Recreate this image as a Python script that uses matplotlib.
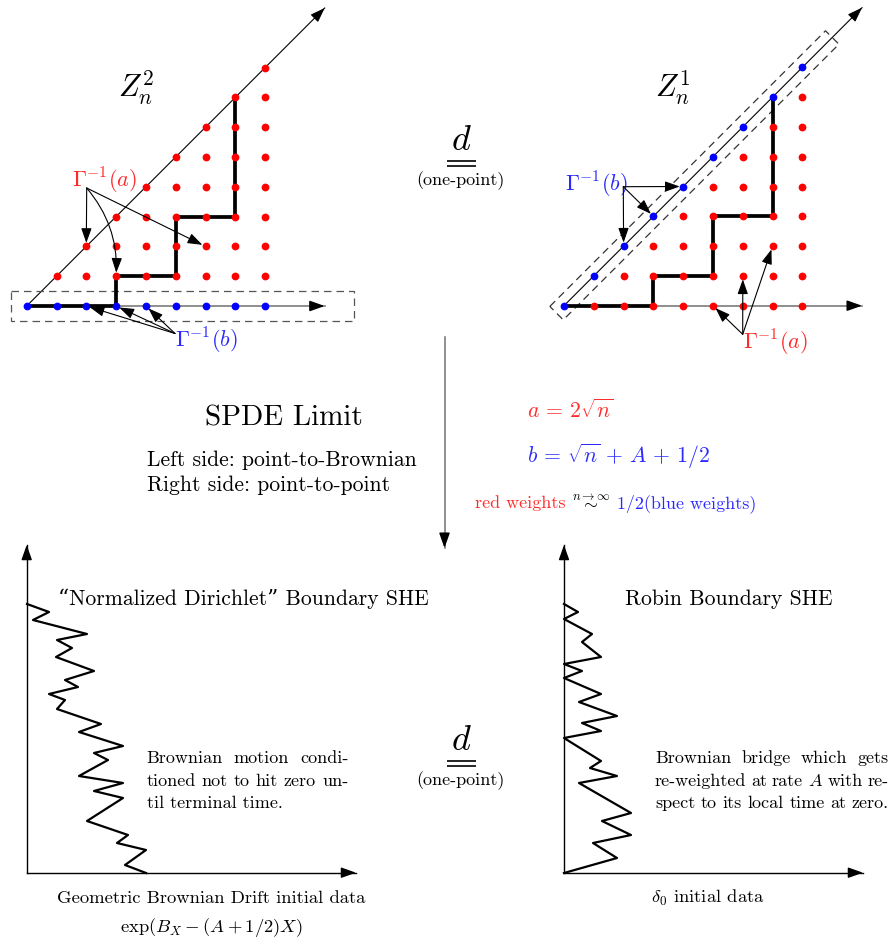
import matplotlib
matplotlib.use("Agg")
import matplotlib.pyplot as plt
import numpy as np
from matplotlib.patches import FancyArrowPatch, Polygon

plt.rcParams['font.family'] = ['cmr10', 'DejaVu Serif']
plt.rcParams['mathtext.fontset'] = 'cm'
plt.rcParams['axes.formatter.use_mathtext'] = True

# lattice data (lattice units)
N_MAX = 8
AXIS_LEN = 10
PATH = [(0, 0), (3, 0), (3, 1), (5, 1), (5, 3), (7, 3), (7, 7)]
LEFT_A_TARGETS = [(2, 2), (3, 1), (6, 2)]
LEFT_A_RAD = [0, -0.2, 0]
LEFT_B_TARGETS = [(2, 0), (3, 0), (4, 0)]
RIGHT_B_TARGETS = [(4, 4), (3, 3), (2, 2)]
RIGHT_A_TARGETS = [(5, 0), (6, 1), (7, 2)]

# zigzag paths of the two lower panels (pixel coords)
ZIG_LEFT_X = [27, 49, 33, 87, 57, 72, 56, 94, 65, 78, 49, 65, 57, 101, 79, 123,
              94, 108, 79, 123, 94, 123, 87, 128, 117, 146, 125, 146]
ZIG_LEFT_Y = [604, 612, 620, 634, 640, 648, 657, 671, 680, 687, 694, 700, 709, 724,
              732, 746, 753, 760, 776, 783, 791, 798, 821, 835, 843, 850, 865, 873]
ZIG_RIGHT_X = [564, 578, 564, 592, 582, 601, 564, 582, 564, 601, 579, 617, 582,
               601, 564, 601, 590, 617, 579, 631, 602, 631, 593, 617, 564]
ZIG_RIGHT_Y = [604, 612, 619, 634, 642, 657, 664, 671, 678, 694, 702, 716, 723,
               731, 738, 761, 768, 776, 783, 813, 821, 835, 843, 858, 873]

RED = '#ff0000'
BLUE = '#0000ff'
TRED = '#ff2a2a'
TBLUE = '#2a2aff'
GRAY = '#707070'
S = 29.8

fig = plt.figure(figsize=(8.91, 9.43), dpi=100)
ax = fig.add_axes([0, 0, 1, 1])
ax.set_xlim(0, 891)
ax.set_ylim(943, 0)
ax.axis('off')


def arrow(p0, p1, color='k', lw=0.8, hl=9, hw=3.2, shrinkB=0, rad=0, z=5):
    a = FancyArrowPatch(p0, p1, arrowstyle=f'-|>,head_length={hl},head_width={hw}',
                        mutation_scale=1, color=color, lw=lw, shrinkA=0,
                        shrinkB=shrinkB, connectionstyle=f'arc3,rad={rad}', zorder=z)
    ax.add_patch(a)


def axis_arrow(p0, p1, color, lw=1.0):
    ax.plot([p0[0], p1[0]], [p0[1], p1[1]], color=color, lw=lw, zorder=1)
    d = np.array(p1) - np.array(p0)
    d = d / np.hypot(*d)
    arrow(tuple(np.array(p1) - 14 * d), p1, color='k', lw=lw, z=2)


def lattice(origin, blue_diag):
    ox, oy = origin

    def P(i, j):
        return (ox + S * i, oy - S * j)

    axis_arrow(P(0, 0), P(AXIS_LEN, 0), GRAY, 1.1)
    axis_arrow(P(0, 0), P(AXIS_LEN, AXIS_LEN), 'k', 0.8)
    px = [P(i, j)[0] for i, j in PATH]
    py = [P(i, j)[1] for i, j in PATH]
    ax.plot(px, py, color='k', lw=2.7, solid_capstyle='butt', zorder=3)
    reds, blues = [], []
    for i in range(N_MAX + 1):
        for j in range(i + 1):
            if blue_diag:
                (blues if i == j else reds).append(P(i, j))
            else:
                if j == 0:
                    blues.append(P(i, j))
                else:
                    reds.append(P(i, j))
    for pts, c in ((reds, RED), (blues, BLUE)):
        ax.plot([p[0] for p in pts], [p[1] for p in pts], 'o', color=c, ms=5.6,
                mec='none', zorder=4)
    return P


# left lattice
PL = lattice((26.7, 306), False)
box = [PL(-0.52, 0.5), PL(10.97, 0.5), PL(10.97, -0.5), PL(-0.52, -0.5)]
ax.add_patch(Polygon(box, closed=True, fill=False, ls=(0, (6, 4)), lw=0.9,
                     ec='#555555', zorder=2))
ax.text(118, 97, r'$Z_n^2$', fontsize=22, va='baseline', ha='left')
ax.text(72, 188, r'$\Gamma^{-1}(a)$', fontsize=16, color=TRED, va='baseline')
for t, r in zip(LEFT_A_TARGETS, LEFT_A_RAD):
    arrow((86.7, 188), PL(*t), shrinkB=2.5, rad=r)
ax.text(175, 348, r'$\Gamma^{-1}(b)$', fontsize=16, color=TBLUE, va='baseline')
for t in LEFT_B_TARGETS:
    arrow((175, 333.5), PL(*t), shrinkB=2.5)

# right lattice
PR = lattice((564, 305.7), True)
h = 9.5 / np.sqrt(2)
c0, c1 = np.array(PR(-0.25, -0.25)), np.array(PR(9.0, 9.0))
off = np.array([h, h])
box = [c0 - off, c1 - off, c1 + off, c0 + off]
ax.add_patch(Polygon(box, closed=True, fill=False, ls=(0, (6, 4)), lw=0.9,
                     ec='#333333', zorder=2))
ax.text(655, 97, r'$Z_n^1$', fontsize=22, va='baseline', ha='left')
ax.text(565, 192, r'$\Gamma^{-1}(b)$', fontsize=16, color=TBLUE, va='baseline')
for t in RIGHT_B_TARGETS:
    arrow((623.3, 186.7), PR(*t), shrinkB=2.5)
ax.text(743, 350, r'$\Gamma^{-1}(a)$', fontsize=16, color=TRED, va='baseline')
for t in RIGHT_A_TARGETS:
    arrow((742.7, 334.3), PR(*t), shrinkB=2.5)


# equal in distribution symbols
def eq_d(y0):
    ax.text(461, y0 + 150, r'$d$', fontsize=26, ha='center', va='baseline')
    ax.hlines([y0 + 160.5, y0 + 165.5], 446.5, 475.5, color='k', lw=1.2)
    ax.text(460, y0 + 185, '(one-point)', fontsize=13, ha='center', va='baseline')


eq_d(0)
eq_d(600)

# middle arrow
axis_arrow((444.5, 337), (444.5, 548), GRAY, 1.1)

# middle texts
ax.text(284, 425, 'SPDE Limit', fontsize=21, ha='center', va='baseline')
ax.text(146.7, 466, 'Left side: point-to-Brownian', fontsize=15.6, va='baseline')
ax.text(146.7, 491, 'Right side: point-to-point', fontsize=15.6, va='baseline')
ax.text(527, 418, r'$a\,=\,2\sqrt{n}$', fontsize=15.6, color=TRED, va='baseline')
ax.text(527, 463, r'$b\,=\,\sqrt{n}\,+\,A\,+\,1/2$', fontsize=15.6, color=TBLUE,
        va='baseline')
ax.text(475, 508, 'red weights', fontsize=13, color=TRED, va='baseline')
ax.text(591, 508, r'$\overset{n\to\infty}{\sim}$', fontsize=13, ha='center', va='baseline')
ax.text(617, 508, '1/2(blue weights)', fontsize=13, color=TBLUE, va='baseline')

# bottom panels
for ox, xt in ((26.7, 356), (564, 863)):
    axis_arrow((ox, 872.7), (ox, 545), 'k', 1.0)
    axis_arrow((ox, 872.7), (xt, 872.7), 'k', 1.0)
ax.plot(ZIG_LEFT_X, ZIG_LEFT_Y, color='k', lw=1.6, zorder=3)
ax.plot(ZIG_RIGHT_X, ZIG_RIGHT_Y, color='k', lw=1.6, zorder=3)

ax.text(58, 605, '\u201cNormalized Dirichlet\u201d Boundary SHE', fontsize=15.6,
        va='baseline')
ax.text(625, 605, 'Robin Boundary SHE', fontsize=15.6, va='baseline')
ax.text(211, 903, 'Geometric Brownian Drift initial data', fontsize=13.4,
        ha='center', va='baseline')
ax.text(211, 932, r'$\exp(B_X - (A + 1/2)X)$', fontsize=13.4, ha='center', va='baseline')
ax.text(708, 903, r'$\delta_0$ initial data', fontsize=13.4, ha='center', va='baseline')

renderer = fig.canvas.get_renderer()


def justify(words, x0, x1, y, size):
    texts = [ax.text(0, y, w, fontsize=size, va='baseline', ha='left') for w in words]
    widths = [t.get_window_extent(renderer).width for t in texts]
    gap = (x1 - x0 - sum(widths)) / (len(words) - 1)
    x = x0
    for t, w in zip(texts, widths):
        t.set_x(x)
        x += w + gap


justify(['Brownian', 'motion', 'condi-'], 146.7, 348.3, 763, 13)
justify(['tioned', 'not', 'to', 'hit', 'zero', 'un-'], 146.7, 348.3, 786, 13)
ax.text(146.7, 808, 'til terminal time.', fontsize=13, va='baseline')
justify(['Brownian', 'bridge', 'which', 'gets'], 655, 889, 763, 13)
justify(['re-weighted', 'at', 'rate', '$A$', 'with', 're-'], 655, 889, 786, 13)
justify(['spect', 'to', 'its', 'local', 'time', 'at', 'zero.'], 655, 889, 808, 13)

fig.savefig('out.png', dpi=100)
